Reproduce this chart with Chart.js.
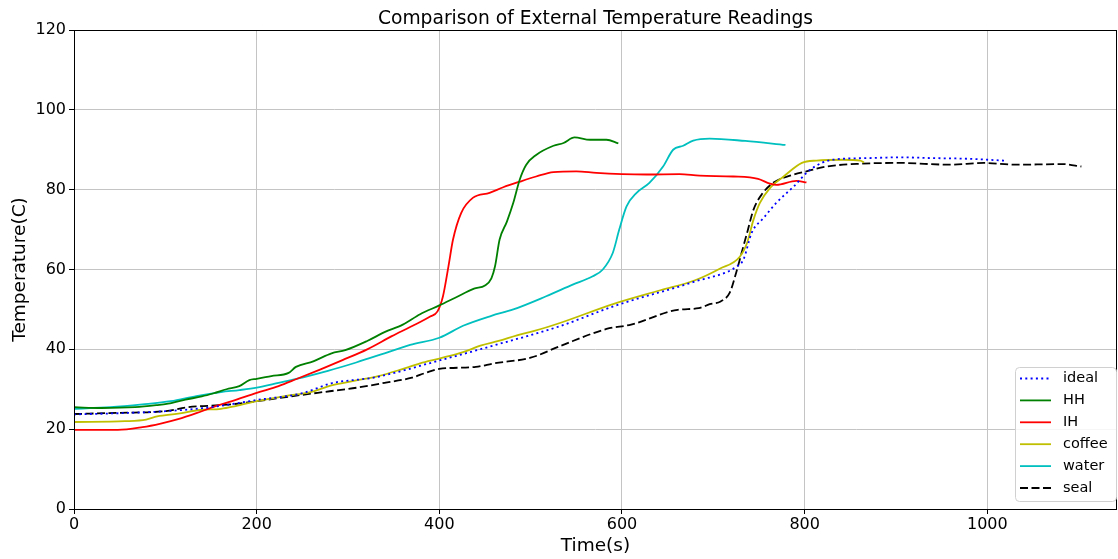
<!DOCTYPE html>
<html>
<head>
<meta charset="utf-8">
<script src="https://cdn.jsdelivr.net/npm/chart.js@4/dist/chart.umd.min.js"></script>
<style>
html,body{margin:0;padding:0;background:#fff;}
#wrap{width:1118px;height:559px;}
</style>
</head>
<body>
<div id="wrap"><canvas id="c" width="1118" height="559"></canvas></div>
<script>
// ---- data ----
const xTicks = [0, 200, 400, 600, 800, 1000];
const yTicks = [0, 20, 40, 60, 80, 100, 120];

const idealTime = [0, 50, 100, 150, 200, 250, 282, 330, 400, 460, 532, 591, 680, 726, 733, 742, 755, 769, 788, 806, 831, 868, 904, 941, 977, 1021];
const idealTemp = [23.7, 24, 24.5, 25.5, 27.3, 29, 31.5, 33, 37.2, 41, 45.8, 50.8, 57, 60.8, 62.5, 69.2, 72.9, 76.7, 80.8, 85, 87.5, 87.9, 88.1, 87.9, 87.75, 87.25];

const hhTime = [0, 30, 67, 90, 103, 122, 140, 153, 167, 181, 192, 200, 216, 235, 243, 262, 282, 297, 321, 340, 360, 379, 400, 418, 438, 450, 457, 461, 466, 474, 481, 488, 495, 506, 525, 536, 548, 565, 583, 596];
const hhTemp = [25.5, 25.3, 25.5, 26, 26.4, 27.4, 28.2, 29, 30, 30.8, 32.3, 32.6, 33.3, 34.1, 35.6, 37, 39, 39.8, 42.1, 44.3, 46.2, 48.8, 51, 53, 55.2, 56, 57.8, 60.8, 67.5, 72, 76.7, 82.5, 86.2, 88.7, 91, 91.7, 93.1, 92.5, 92.5, 91.6];

const ihTime = [0, 48, 75, 95, 114, 134, 153, 173, 200, 224, 243, 270, 294, 321, 348, 368, 390, 398, 404, 410, 415, 424, 437, 455, 470, 488, 506, 525, 550, 572, 600, 627, 663, 685, 722, 749, 762, 769, 791, 802];
const ihTemp = [19.8, 19.8, 20.5, 21.4, 22.5, 24, 25.6, 27, 29.1, 30.8, 32.5, 35, 37.3, 40, 43.3, 45.6, 48.2, 49.5, 53.3, 60.8, 67.5, 74.2, 78, 79.2, 80.6, 82, 83.3, 84.4, 84.6, 84.2, 83.9, 83.8, 83.9, 83.5, 83.3, 82.7, 81.5, 81.2, 82.2, 81.8];

const coffeeTime = [0, 56, 79, 91, 114, 138, 161, 177, 200, 231, 259, 282, 309, 333, 356, 379, 400, 426, 446, 465, 485, 504, 532, 591, 642, 680, 707, 729, 737, 744, 751, 762, 777, 797, 813, 842, 861, 865];
const coffeeTemp = [21.8, 22, 22.4, 23.2, 23.9, 24.8, 25.1, 25.8, 27, 28.3, 29.3, 31, 32.2, 33.3, 34.8, 36.5, 37.7, 39.3, 41, 42.1, 43.5, 44.6, 46.6, 51.4, 54.8, 57.3, 60.2, 63.2, 66.7, 72.5, 76.7, 80.4, 83.3, 86.7, 87.3, 87.5, 87.3, 86.8];

const waterTime = [0, 40, 75, 106, 134, 161, 181, 200, 224, 251, 278, 309, 340, 368, 400, 426, 457, 481, 517, 546, 568, 579, 590, 597, 605, 616, 630, 645, 656, 667, 678, 696, 735, 779];
const waterTemp = [25.1, 25.5, 26.2, 27, 28.3, 29.3, 29.8, 30.4, 31.6, 33, 34.6, 36.7, 39, 41.1, 42.9, 45.9, 48.4, 50, 53.3, 56.2, 58.3, 60, 64.2, 70, 75.8, 79.2, 81.7, 85.8, 90, 91, 92.3, 92.8, 92.2, 91.2];

const sealTime = [0, 50, 100, 125, 150, 180, 200, 240, 280, 310, 340, 370, 385, 400, 440, 460, 500, 532, 583, 610, 661, 684, 696, 708, 718, 725, 731, 737, 744, 753, 766, 784, 802, 824, 861, 904, 959, 996, 1032, 1083, 1103];
const sealTemp = [23.8, 24.1, 24.5, 25.5, 25.9, 26.4, 27, 28.3, 29.5, 30.4, 31.6, 32.9, 34.1, 35.1, 35.6, 36.5, 37.9, 40.8, 45.1, 46.2, 49.9, 50.3, 51.3, 52, 54.2, 59.2, 64.2, 69.2, 75, 78.8, 81.8, 83.5, 84.6, 85.8, 86.5, 86.7, 86.25, 86.7, 86.25, 86.4, 85.8];

const seriesNames = ['ideal', 'HH', 'IH', 'coffee', 'water', 'seal'];

// ---- build ----
const zip = (xs, ys) => xs.map((x, i) => ({x: x, y: ys[i]}));
const FONT = "'DejaVu Sans', 'Liberation Sans', sans-serif";
const styles = [
  {color: '#0000ff', dash: [2, 3.3]},
  {color: '#008000', dash: []},
  {color: '#ff0000', dash: []},
  {color: '#bfbf00', dash: []},
  {color: '#00bfbf', dash: []},
  {color: '#000000', dash: [8, 3.5]}
];
const seriesData = [
  zip(idealTime, idealTemp), zip(hhTime, hhTemp), zip(ihTime, ihTemp),
  zip(coffeeTime, coffeeTemp), zip(waterTime, waterTemp), zip(sealTime, sealTemp)
];
const datasets = seriesNames.map((n, i) => ({
  label: n,
  data: seriesData[i],
  borderColor: styles[i].color,
  backgroundColor: styles[i].color,
  borderDash: styles[i].dash,
  borderWidth: 1.8,
  pointRadius: 0,
  fill: false,
  cubicInterpolationMode: 'monotone'
}));

const framePlugin = {
  id: 'frame',
  afterDatasetsDraw(chart) {
    const {ctx, chartArea: a} = chart;
    ctx.save();
    ctx.strokeStyle = '#000';
    ctx.lineWidth = 1;
    ctx.setLineDash([]);
    ctx.strokeRect(Math.round(a.left) + 0.5, Math.round(a.top) + 0.5, Math.round(a.right - a.left) - 1, Math.round(a.bottom - a.top));
    ctx.restore();
  },
  afterDraw(chart) {
    const {ctx, chartArea: a} = chart;
    ctx.save();
    // title
    ctx.fillStyle = '#000';
    ctx.font = '18.7px ' + FONT;
    ctx.textAlign = 'center';
    ctx.textBaseline = 'alphabetic';
    ctx.fillText('Comparison of External Temperature Readings', (a.left + a.right) / 2, 24);
    // legend
    const bw = 101, bh = 134;
    const bx = a.right - 1 - bw, by = a.bottom - 8 - bh;
    ctx.beginPath();
    if (ctx.roundRect) ctx.roundRect(bx + 0.5, by + 0.5, bw, bh, 4); else ctx.rect(bx + 0.5, by + 0.5, bw, bh);
    ctx.fillStyle = 'rgba(255,255,255,0.85)';
    ctx.fill();
    ctx.strokeStyle = '#d0d0d0';
    ctx.lineWidth = 1;
    ctx.stroke();
    ctx.font = '14.5px ' + FONT;
    ctx.textAlign = 'left';
    ctx.textBaseline = 'middle';
    chart.data.datasets.forEach((ds, i) => {
      const y = by + 11.5 + i * 21.9;
      ctx.beginPath();
      ctx.strokeStyle = ds.borderColor;
      ctx.lineWidth = ds.borderWidth;
      ctx.setLineDash(ds.borderDash || []);
      ctx.moveTo(bx + 5, y);
      ctx.lineTo(bx + 36, y);
      ctx.stroke();
      ctx.setLineDash([]);
      ctx.fillStyle = '#000';
      ctx.fillText(ds.label, bx + 48, y);
    });
    ctx.restore();
  }
};

new Chart(document.getElementById('c'), {
  type: 'line',
  data: {datasets: datasets},
  options: {
    responsive: false,
    devicePixelRatio: 1,
    animation: false,
    parsing: true,
    layout: {padding: {top: 30, right: 1, left: 0, bottom: 0}},
    plugins: {legend: {display: false}, title: {display: false}, tooltip: {enabled: false}},
    scales: {
      x: {
        type: 'linear',
        min: 0, max: 1142,
        afterFit: s => { s.height = 50; },
        afterBuildTicks: s => { s.ticks = xTicks.map(v => ({value: v})); },
        grid: {color: '#c4c4c4', lineWidth: 1, tickLength: 5, tickColor: '#000', tickWidth: 1},
        border: {display: false},
        ticks: {font: {family: FONT, size: 16}, color: '#000', padding: 1, maxRotation: 0, autoSkip: false, callback: v => String(v)},
        title: {display: true, text: 'Time(s)', font: {family: FONT, size: 18.5}, color: '#000', padding: {top: 2, bottom: 2}}
      },
      y: {
        type: 'linear',
        min: 0, max: 120,
        afterFit: s => { s.width = 74; },
        afterBuildTicks: s => { s.ticks = yTicks.map(v => ({value: v})); },
        grid: {color: '#c4c4c4', lineWidth: 1, tickLength: 5, tickColor: '#000', tickWidth: 1},
        border: {display: false},
        ticks: {font: {family: FONT, size: 16}, color: '#000', padding: 3, autoSkip: false, callback: v => String(v)},
        title: {display: true, text: 'Temperature(C)', font: {family: FONT, size: 18.5}, color: '#000', padding: {top: 9, bottom: 9}}
      }
    }
  },
  plugins: [framePlugin]
});
</script>
</body>
</html>
